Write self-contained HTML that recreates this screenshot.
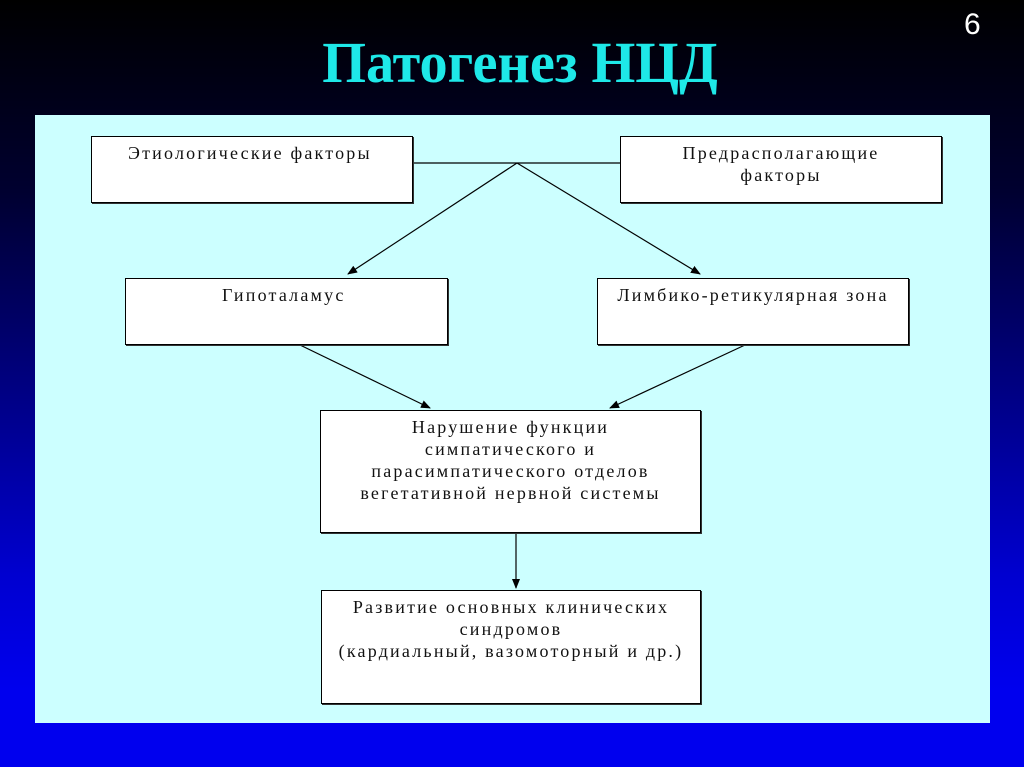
<!DOCTYPE html>
<html><head><meta charset="utf-8"><style>
html,body{margin:0;padding:0}
body{width:1024px;height:767px;overflow:hidden;position:relative;
background:linear-gradient(to bottom,#000 0%,#000030 25%,#000080 50%,#0000d0 75%,#0000ee 90%,#0000ee 100%);
font-family:"Liberation Serif",serif}
.title{position:absolute;left:0;width:1040px;top:31px;text-align:center;color:#1ee8e8;font-weight:bold;font-size:58px;line-height:64px;transform:scaleX(0.97);transform-origin:520px 0}
.num{position:absolute;left:964px;top:8px;color:#fff;font-family:"Liberation Sans",sans-serif;font-size:30px}
.panel{position:absolute;left:35px;top:115px;width:955px;height:608px;background:#ccffff}
.box{position:absolute;background:#fff;border:1px solid #000;box-shadow:1px 1px 0 #333;box-sizing:border-box;text-align:center;font-size:18px;letter-spacing:2.2px;line-height:22px;color:#111;padding-top:5px;white-space:nowrap}
svg{position:absolute;left:0;top:0}
</style></head><body>
<div class="title">Патогенез НЦД</div>
<div class="num">6</div>
<div class="panel"></div>
<svg width="1024" height="767">
<defs><marker id="a" markerWidth="10" markerHeight="8" refX="9" refY="4" orient="auto" markerUnits="userSpaceOnUse"><path d="M0,0 L10,4 L0,8 z" fill="#000"/></marker></defs>
<g stroke="#000" stroke-width="1.2" fill="none">
<line x1="412" y1="163" x2="620" y2="163"/>
<line x1="517" y1="163" x2="348" y2="274" marker-end="url(#a)"/>
<line x1="517" y1="163" x2="700" y2="274" marker-end="url(#a)"/>
<line x1="300" y1="345" x2="430" y2="408" marker-end="url(#a)"/>
<line x1="745" y1="345" x2="610" y2="408" marker-end="url(#a)"/>
<line x1="516" y1="532" x2="516" y2="588" marker-end="url(#a)"/>
</g>
</svg>
<div class="box" style="left:91px;top:136px;width:322px;height:67px;text-align:left;padding-left:36px">Этиологические факторы</div>
<div class="box" style="left:620px;top:136px;width:322px;height:67px">Предрасполагающие<br>факторы</div>
<div class="box" style="left:125px;top:278px;width:323px;height:67px;text-align:left;padding-left:96px">Гипоталамус</div>
<div class="box" style="left:597px;top:278px;width:312px;height:67px">Лимбико-ретикулярная зона</div>
<div class="box" style="left:320px;top:410px;width:381px;height:123px">Нарушение функции<br>симпатического и<br>парасимпатического отделов<br>вегетативной нервной системы</div>
<div class="box" style="left:321px;top:590px;width:380px;height:114px">Развитие основных клинических<br>синдромов<br>(кардиальный, вазомоторный и др.)</div>
</body></html>
